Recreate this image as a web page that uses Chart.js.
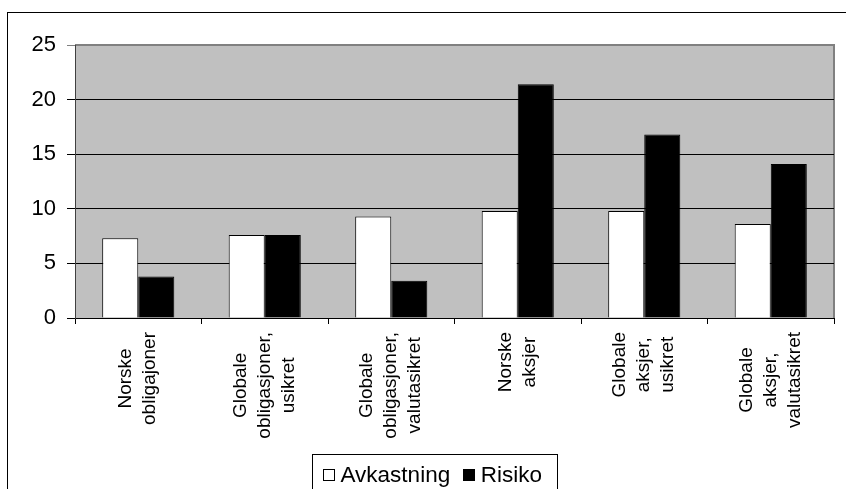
<!DOCTYPE html>
<html>
<head>
<meta charset="utf-8">
<script src="https://cdn.jsdelivr.net/npm/chart.js@4/dist/chart.umd.min.js"></script>
<style>
  html, body { margin: 0; padding: 0; background: #fff; }
  #wrap { width: 846px; height: 489px; position: relative; }
</style>
</head>
<body>
<div id="wrap"><canvas id="c" width="846" height="489"></canvas></div>
<script>
// Asset classes (each label split into its display lines)
const categories = [
  ['Norske', 'obligajoner'],
  ['Globale', 'obligasjoner,', 'usikret'],
  ['Globale', 'obligasjoner,', 'valutasikret'],
  ['Norske', 'aksjer'],
  ['Globale', 'aksjer,', 'usikret'],
  ['Globale', 'aksjer,', 'valutasikret']
];
const seriesNames = ['Avkastning', 'Risiko'];
const avkastning = [7.3, 7.6, 9.3, 9.8, 9.8, 8.6];
const risiko = [3.8, 7.6, 3.4, 21.4, 16.8, 14.1];
const yTicks = [0, 5, 10, 15, 20, 25];

const FONT = '"Liberation Sans", Arial, Helvetica, sans-serif';

// Outer frame, grey plot background and plot border
const backdrop = {
  id: 'backdrop',
  beforeDraw(chart) {
    const ctx = chart.ctx, a = chart.chartArea;
    ctx.save();
    ctx.strokeStyle = '#000';
    ctx.lineWidth = 1;
    ctx.strokeRect(7.5, 12.5, 1000, 1000);
    ctx.fillStyle = '#C0C0C0';
    ctx.fillRect(a.left, a.top, a.right - a.left, a.bottom - a.top);
    ctx.strokeStyle = '#808080';
    ctx.lineWidth = 2;
    ctx.beginPath();
    ctx.moveTo(a.left, a.top);
    ctx.lineTo(a.right, a.top);
    ctx.lineTo(a.right, a.bottom);
    ctx.stroke();
    ctx.restore();
  }
};

// Vertical category labels, lines centred on each other
const verticalLabels = {
  id: 'verticalLabels',
  afterDraw(chart) {
    const ctx = chart.ctx, xs = chart.scales.x;
    const lineH = 24;
    ctx.save();
    ctx.font = '19px ' + FONT;
    ctx.fillStyle = '#000';
    ctx.textAlign = 'center';
    ctx.textBaseline = 'middle';
    chart.data.labels.forEach((lines, i) => {
      const x = xs.getPixelForValue(i);
      const maxW = Math.max(...lines.map(l => ctx.measureText(l).width));
      ctx.save();
      ctx.translate(x, chart.chartArea.bottom + 14);
      ctx.rotate(-Math.PI / 2);
      lines.forEach((l, j) => {
        ctx.fillText(l, -maxW / 2, (j - (lines.length - 1) / 2) * lineH);
      });
      ctx.restore();
    });
    ctx.restore();
  }
};

// Boxed legend below the labels
const boxedLegend = {
  id: 'boxedLegend',
  afterDraw(chart) {
    const ctx = chart.ctx;
    ctx.save();
    ctx.font = '22.5px ' + FONT;
    ctx.textBaseline = 'alphabetic';
    ctx.textAlign = 'left';
    const boxL = 312.5, boxT = 454.5, pad = 10, mk = 12, gap = 6, itemGap = 12.5;
    let x = boxL + pad;
    chart.data.datasets.forEach((ds) => {
      const mx = Math.round(x);
      ctx.fillStyle = ds.backgroundColor;
      ctx.fillRect(mx, 469, mk, mk);
      ctx.strokeStyle = '#000';
      ctx.lineWidth = 1;
      ctx.strokeRect(mx + 0.5, 469.5, mk - 1, mk - 1);
      ctx.fillStyle = '#000';
      ctx.fillText(ds.label, x + mk + gap, 482);
      x += mk + gap + ctx.measureText(ds.label).width + itemGap;
    });
    const boxR = Math.round(x - itemGap + 15) + 0.5;
    ctx.strokeStyle = '#000';
    ctx.lineWidth = 1;
    ctx.strokeRect(boxL, boxT, boxR - boxL, 100);
    ctx.restore();
  }
};

new Chart(document.getElementById('c'), {
  type: 'bar',
  data: {
    labels: categories,
    datasets: [
      { label: seriesNames[0], data: avkastning, backgroundColor: '#FFFFFF', borderColor: '#000', borderWidth: 1 },
      { label: seriesNames[1], data: risiko, backgroundColor: '#000000', borderColor: '#000', borderWidth: 1 }
    ]
  },
  options: {
    responsive: false,
    animation: false,
    devicePixelRatio: 1,
    layout: { padding: { left: 0, top: 45, right: 12, bottom: 141 } },
    datasets: { bar: { categoryPercentage: 0.57, barPercentage: 1.0 } },
    plugins: { legend: { display: false }, tooltip: { enabled: false } },
    scales: {
      x: {
        grid: { display: true, offset: true, drawOnChartArea: false, drawTicks: true, tickLength: 6, color: '#000' },
        border: { display: true, color: '#000', width: 1 },
        ticks: { display: false },
        afterFit(scale) { scale.height = 30; }
      },
      y: {
        min: 0,
        max: 25,
        afterBuildTicks(scale) { scale.ticks = yTicks.map(v => ({ value: v })); },
        ticks: { color: '#000', font: { family: FONT, size: 22 }, padding: 11 },
        grid: {
          color: (c) => (c.tick && c.tick.value === 25 ? '#808080' : '#000'),
          tickLength: 8,
          lineWidth: 1
        },
        border: { display: true, color: '#404040', width: 1 },
        afterFit(scale) { scale.width = 75; }
      }
    }
  },
  plugins: [backdrop, verticalLabels, boxedLegend]
});
</script>
</body>
</html>
